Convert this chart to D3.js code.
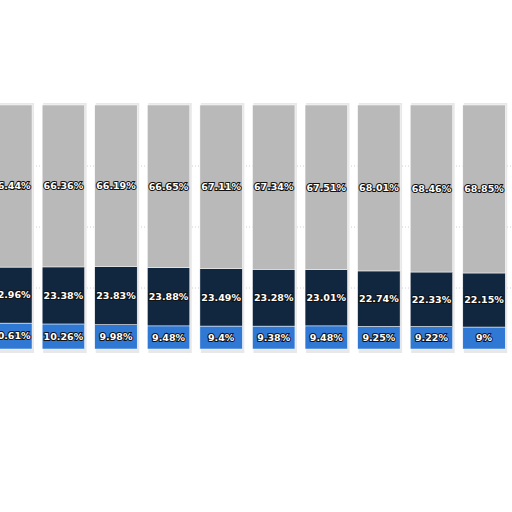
<!DOCTYPE html>
<html><head><meta charset="utf-8">
<script src="https://cdn.jsdelivr.net/npm/d3@7"></script>
<style>body{margin:0;background:#fff;}</style>
</head><body><div id="chart"></div>
<script>
// Data (share in %)
const categories = ["c0","c1","c2","c3","c4","c5","c6","c7","c8","c9","c10","c11"];
const blueShare = [10.61,10.26,9.98,9.48,9.4,9.38,9.48,9.25,9.22,9,8.9,8.8];
const navyShare = [22.96,23.38,23.83,23.88,23.49,23.28,23.01,22.74,22.33,22.15,21.9,21.7];
const grayShare = [66.44,66.36,66.19,66.65,67.11,67.34,67.51,68.01,68.46,68.85,69.2,69.5];
const gridTicks = [25,50,75];

const keys = ["blue","navy","gray"];
const color = d3.scaleOrdinal(keys, ["#2f78d3","#11273f","#b9b9b9"]);
const data = categories.map((c,i) => ({name:c, blue:blueShare[i], navy:navyShare[i], gray:grayShare[i]}));

const svg = d3.select("#chart").append("svg").attr("width",512).attr("height",512);

const x = d3.scaleBand().domain(categories).range([-12, 612]).paddingInner(10/52).paddingOuter(0.03);
const y = d3.scaleLinear().domain([0,100]).range([349,105]);

// dotted gridlines (behind bars)
svg.append("g").selectAll("line").data(gridTicks).join("line")
  .attr("x1",0).attr("x2",512).attr("y1", d => y(d)).attr("y2", d => y(d))
  .attr("stroke","#d0d0d0").attr("stroke-dasharray","1,2");

// shadows behind bars
svg.append("g").selectAll("rect").data(data).join("rect")
  .attr("x", d => x(d.name)+1).attr("y", y(100)-2)
  .attr("width", x.bandwidth()+1).attr("height", y(0)-y(100)+6)
  .attr("fill","#e8e8e8");

const stacked = d3.stack().keys(keys)(data);
svg.append("g").selectAll("g").data(stacked).join("g")
  .attr("fill", d => color(d.key))
  .selectAll("rect").data(d => d).join("rect")
  .attr("x", d => x(d.data.name)).attr("y", d => y(d[1]))
  .attr("width", x.bandwidth()).attr("height", d => y(d[0]) - y(d[1]))
  .attr("stroke","#fff").attr("stroke-width",0.5);

// labels
const labels = svg.append("g").style("font-family","DejaVu Sans, sans-serif")
  .style("font-size","9.5px").style("font-weight","bold");
stacked.forEach(s => {
  labels.selectAll(null).data(s).join("text")
    .attr("x", d => x(d.data.name) + x.bandwidth()/2)
    .attr("y", d => (y(d[0]) + y(d[1]))/2)
    .attr("dy","0.35em").attr("text-anchor","middle")
    .attr("fill","#fff").attr("stroke","#111").attr("stroke-width",2)
    .attr("paint-order","stroke")
    .text(d => (+(d[1]-d[0]).toFixed(2)) + "%");
});
</script></body></html>
